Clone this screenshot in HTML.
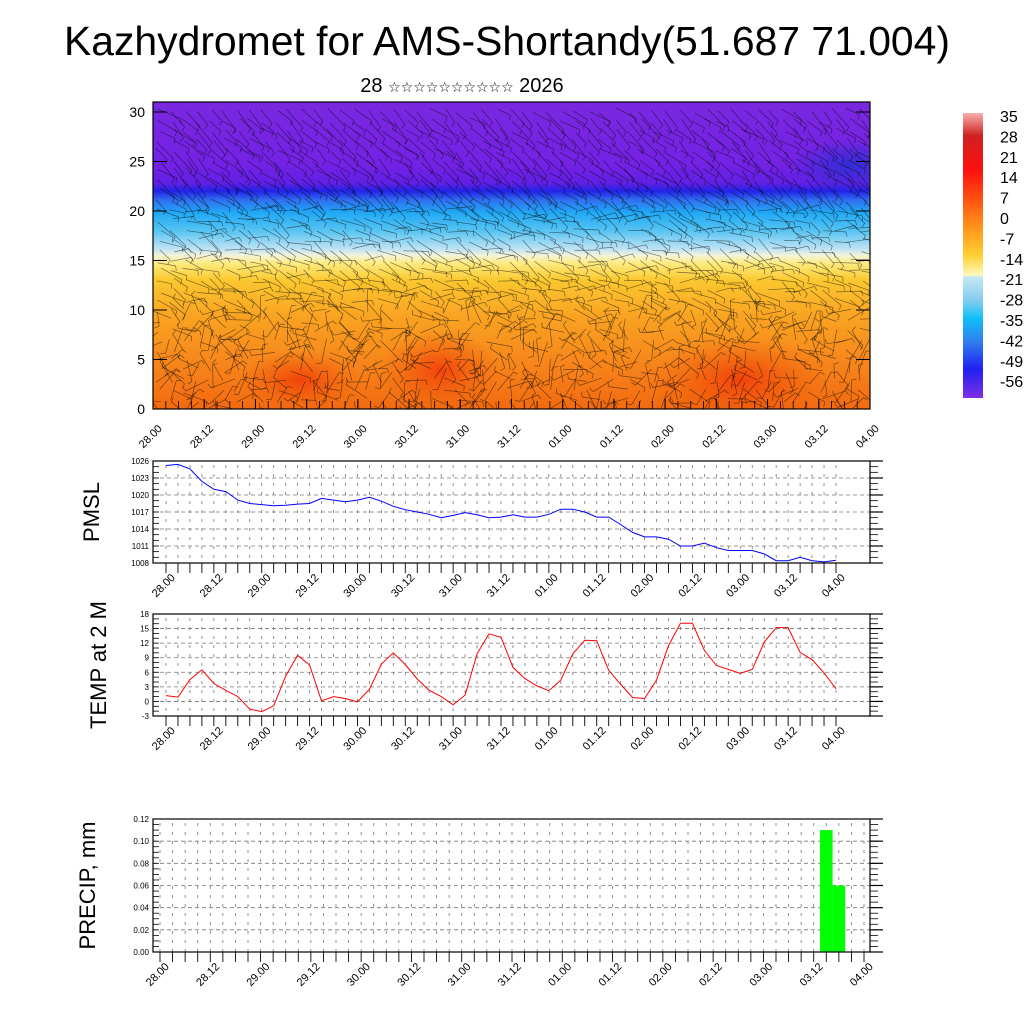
<!DOCTYPE html>
<html><head><meta charset="utf-8">
<style>
html,body{margin:0;padding:0;background:#fff;}
svg{display:block;font-family:"Liberation Sans","DejaVu Sans",sans-serif;}
</style></head>
<body>
<svg id="chart" width="1024" height="1024" viewBox="0 0 1024 1024" xmlns="http://www.w3.org/2000/svg">
<defs>
  <linearGradient id="vgrad" x1="0" y1="1" x2="0" y2="0">
    <stop offset="0" stop-color="#f26a10"/>
    <stop offset="0.12" stop-color="#f6801a"/>
    <stop offset="0.30" stop-color="#f9a322"/>
    <stop offset="0.42" stop-color="#fbc830"/>
    <stop offset="0.475" stop-color="#fdeb80"/>
    <stop offset="0.50" stop-color="#f4f4d8"/>
    <stop offset="0.52" stop-color="#c0e4f4"/>
    <stop offset="0.58" stop-color="#58c4f2"/>
    <stop offset="0.64" stop-color="#20a8f4"/>
    <stop offset="0.68" stop-color="#3070f0"/>
    <stop offset="0.71" stop-color="#2222e6"/>
    <stop offset="0.735" stop-color="#6020e4"/>
    <stop offset="0.80" stop-color="#7422e4"/>
    <stop offset="1" stop-color="#7a28e0"/>
  </linearGradient>
  <radialGradient id="hot" cx="0.5" cy="0.5" r="0.5">
    <stop offset="0" stop-color="#f03808" stop-opacity="0.85"/>
    <stop offset="1" stop-color="#f05808" stop-opacity="0"/>
  </radialGradient>
  <radialGradient id="cold" cx="0.5" cy="0.5" r="0.5">
    <stop offset="0" stop-color="#2030d0" stop-opacity="0.8"/>
    <stop offset="1" stop-color="#2030d0" stop-opacity="0"/>
  </radialGradient>
  <linearGradient id="cbar" x1="0" y1="0" x2="0" y2="1">
    <stop offset="0" stop-color="#f8b0b0"/>
    <stop offset="0.08" stop-color="#d02020"/>
    <stop offset="0.2" stop-color="#ff1010"/>
    <stop offset="0.3" stop-color="#ff5010"/>
    <stop offset="0.42" stop-color="#ffa020"/>
    <stop offset="0.5" stop-color="#ffd030"/>
    <stop offset="0.57" stop-color="#fff8c0"/>
    <stop offset="0.575" stop-color="#c8e8f4"/>
    <stop offset="0.66" stop-color="#80ccee"/>
    <stop offset="0.72" stop-color="#10c0f8"/>
    <stop offset="0.8" stop-color="#3080f0"/>
    <stop offset="0.9" stop-color="#2020f0"/>
    <stop offset="1" stop-color="#8030e8"/>
  </linearGradient>
  <clipPath id="topclip"><rect x="153" y="102" width="717" height="307"/></clipPath>
</defs>

<text x="507" y="55" font-size="41" text-anchor="middle" textLength="886" lengthAdjust="spacingAndGlyphs">Kazhydromet for AMS-Shortandy(51.687 71.004)</text>
<text x="462" y="92" font-size="20" text-anchor="middle">28 <tspan font-size="14">☆☆☆☆☆☆☆☆☆☆</tspan> 2026</text>

<g id="top">
  <rect x="153" y="102" width="717" height="307" fill="url(#vgrad)"/>
  <g clip-path="url(#topclip)">
    <ellipse cx="440" cy="370" rx="60" ry="40" fill="url(#hot)"/>
    <ellipse cx="300" cy="380" rx="60" ry="30" fill="url(#hot)"/>
    <ellipse cx="740" cy="380" rx="90" ry="45" fill="url(#hot)"/>
    <ellipse cx="850" cy="165" rx="60" ry="25" fill="url(#cold)"/>
  </g>
  <g id="barbs" clip-path="url(#topclip)" stroke="#000" stroke-width="0.7" stroke-opacity="0.5" fill="none"></g>
  <rect x="153" y="102" width="717" height="307" fill="none" stroke="#000" stroke-width="1.2"/>
  <g id="topaxes"></g>
</g>

<g id="colorbar">
  <rect x="963" y="113" width="20" height="285" fill="url(#cbar)"/>
</g>

<g id="pmsl"></g>
<g id="temp"></g>
<g id="precip"></g>
</svg>

<script>
// ---------- data ----------
const xLabels = ["28.00","28.12","29.00","29.12","30.00","30.12","31.00","31.12","01.00","01.12","02.00","02.12","03.00","03.12","04.00"];
const heightTicks = [0,5,10,15,20,25,30];
const colorbarLabels = ["35","28","21","14","7","0","-7","-14","-21","-28","-35","-42","-49","-56"];
const pmslValues = [1025.2,1025.4,1024.6,1022.4,1021.0,1020.6,1019.1,1018.5,1018.3,1018.1,1018.2,1018.4,1018.5,1019.4,1019.1,1018.8,1019.1,1019.6,1018.9,1018.0,1017.4,1017.0,1016.6,1016.0,1016.4,1016.9,1016.5,1016.0,1016.1,1016.5,1016.1,1016.1,1016.6,1017.5,1017.5,1017.0,1016.1,1016.1,1014.8,1013.4,1012.6,1012.6,1012.2,1011.0,1011.0,1011.5,1010.7,1010.2,1010.2,1010.2,1009.6,1008.4,1008.4,1009.0,1008.4,1008.2,1008.5];
const pmslTicks = [1008,1011,1014,1017,1020,1023,1026];
const tempValues = [1.2,0.9,4.5,6.5,3.7,2.3,1.0,-1.6,-2.1,-0.9,5.2,9.5,7.5,0.1,1.0,0.6,-0.1,2.5,7.7,10.0,7.6,4.6,2.3,1.0,-0.7,1.3,9.8,13.9,13.2,7.0,4.7,3.2,2.2,4.4,9.8,12.6,12.5,6.4,3.5,0.8,0.6,4.4,11.5,16.1,16.1,10.5,7.4,6.6,5.8,6.6,12.2,15.2,15.2,10.1,8.6,5.9,2.6];
const tempTicks = [-3,0,3,6,9,12,15,18];
const precipIndex = [53,54];
const precipValues = [0.11,0.06];
const precipTicks = ["0.00","0.02","0.04","0.06","0.08","0.10","0.12"];

const NS="http://www.w3.org/2000/svg";
function mk(tag,attrs,parent){const e=document.createElementNS(NS,tag);for(const k in attrs)e.setAttribute(k,attrs[k]);parent.appendChild(e);return e;}

// ---------- top panel axes ----------
(function(){
  const g=document.getElementById('topaxes');
  const x0=153,x1=870,y0=409;
  const ys=v=>409-v*9.9;
  heightTicks.forEach(v=>{
    const t=mk('text',{x:145,y:ys(v)+5,'font-size':14,'text-anchor':'end'},g);
    t.textContent=v;
    
    
    mk('line',{x1:x0,x2:x0+14,y1:ys(v),y2:ys(v),stroke:'#000','stroke-width':1},g);
    mk('line',{x1:x1-14,x2:x1,y1:ys(v),y2:ys(v),stroke:'#000','stroke-width':1},g);
  });
  const step=(x1-x0)/(xLabels.length-1);
  for(let i=0;i<xLabels.length;i++){
    const x=x0+i*step;
    mk('line',{x1:x,x2:x,y1:y0,y2:y0-10,stroke:'#000','stroke-width':1},g);
    const t=mk('text',{x:0,y:0,'font-size':11,'text-anchor':'middle',transform:`translate(${x},${y0+30}) rotate(-45)`},g);
    t.textContent=xLabels[i];
    
    
  }
  for(let i=0;i<=56;i++){const x=x0+i*(x1-x0)/56;mk('line',{x1:x,x2:x,y1:y0,y2:y0-8,stroke:'#000','stroke-width':0.8},g);}
  // decorative wind-barb texture
  const b=document.getElementById('barbs');
  let s=7;const r=()=>{s=(s*16807)%2147483647;return s/2147483647;};
  for(let gy=108;gy<409;gy+=10){
    for(let gx=156;gx<870;gx+=13){
      const a=(gy<200? 0.4 + r()*0.6 : (gy<300? r()*1.2-0.3 : r()*6.28));
      const L=14+r()*12;
      const px=gx+r()*6, py=gy+r()*5;
      const ex=px+Math.cos(a)*L, ey=py+Math.sin(a)*L;
      mk('line',{x1:px.toFixed(1),y1:py.toFixed(1),x2:ex.toFixed(1),y2:ey.toFixed(1)},b);
      const fa=a+1.3;
      mk('line',{x1:ex.toFixed(1),y1:ey.toFixed(1),x2:(ex+Math.cos(fa)*5).toFixed(1),y2:(ey+Math.sin(fa)*5).toFixed(1)},b);
    }
  }
})();

// ---------- colorbar labels ----------
(function(){
  const g=document.getElementById('colorbar');
  colorbarLabels.forEach((l,i)=>{
    const t=mk('text',{x:1000,y:122+i*20.4,'font-size':16},g);
    t.textContent=l;
    
    
  });
})();

// ---------- generic time-series panel ----------
function panel(id,opt){
  const g=document.getElementById(id);
  
  
  const {bx0,bx1,by0,by1,tx0,tx1,ymin,ymax}=opt;
  const xs=i=>tx0+i*(tx1-tx0)/56;
  const ys=v=>by1-(v-ymin)/(ymax-ymin)*(by1-by0);
  for(let i=0;i<=56;i++){
    mk('line',{x1:xs(i),x2:xs(i),y1:by0+4,y2:by1,stroke:'#777','stroke-width':0.8,'stroke-dasharray':'3,6'},g);
  }
  opt.ticks.forEach(v=>{
    const y=ys(+v);
    mk('line',{x1:bx0,x2:bx1,y1:y,y2:y,stroke:'#777','stroke-width':0.8,'stroke-dasharray':'4,3'},g);
    const t=mk('text',{x:bx0-4,y:y+3,'font-size':8,'text-anchor':'end'},g);
    t.textContent=v;
    
    
    mk('line',{x1:bx1,x2:bx1+13,y1:y,y2:y,stroke:'#000','stroke-width':1.2},g);
  });
  for(let v=ymin;v<=ymax+1e-9;v+=opt.minor){
    const y=ys(v);
    mk('line',{x1:bx0,x2:bx0+6,y1:y,y2:y,stroke:'#000','stroke-width':0.8},g);
    mk('line',{x1:bx1,x2:bx1+8,y1:y,y2:y,stroke:'#000','stroke-width':0.8},g);
  }
  opt.draw(g,xs,ys);
  mk('rect',{x:bx0,y:by0,width:bx1-bx0,height:by1-by0,fill:'none',stroke:'#000','stroke-width':1.2},g);
  for(let i=0;i<=56;i++){
    mk('line',{x1:xs(i),x2:xs(i),y1:by1,y2:by1+10,stroke:'#000','stroke-width':0.9},g);
  }
  xLabels.forEach((l,k)=>{
    const x=xs(k*4);
    const t=mk('text',{x:0,y:0,'font-size':11,'text-anchor':'middle',transform:`translate(${x},${by1+25}) rotate(-45)`},g);
    t.textContent=l;
    
    
  });
  const yt=mk('text',{x:0,y:0,'font-size':22,'text-anchor':'middle',transform:`translate(${opt.labelX},${(by0+by1)/2}) rotate(-90)`},g);
  yt.textContent=opt.title;
  
  
}

panel('pmsl',{name:'pmsl-panel',bx0:153,bx1:870,by0:461,by1:563,tx0:166,tx1:836,ymin:1008,ymax:1026,minor:1,ticks:pmslTicks,labelX:99,title:'PMSL',
  draw:(g,xs,ys)=>{
    const p=mk('polyline',{points:pmslValues.map((v,i)=>xs(i).toFixed(1)+','+ys(v).toFixed(1)).join(' '),fill:'none',stroke:'#0000ff','stroke-width':1},g);
    
    
  }});
panel('temp',{name:'temp-panel',bx0:153,bx1:870,by0:614,by1:716,tx0:166,tx1:836,ymin:-3,ymax:18,minor:1,ticks:tempTicks,labelX:106,title:'TEMP at 2 M',
  draw:(g,xs,ys)=>{
    const p=mk('polyline',{points:tempValues.map((v,i)=>xs(i).toFixed(1)+','+ys(v).toFixed(1)).join(' '),fill:'none',stroke:'#ff0000','stroke-width':1},g);
    
    
  }});
panel('precip',{name:'precip-panel',bx0:153,bx1:870,by0:819,by1:952,tx0:160,tx1:864,ymin:0,ymax:0.12,minor:0.005,ticks:precipTicks,labelX:95,title:'PRECIP, mm',
  draw:(g,xs,ys)=>{
    const w=(864-160)/56;
    precipValues.forEach((v,k)=>{
      const xc=xs(precipIndex[k]);
      const r=mk('rect',{x:(xc-w/2).toFixed(1),y:ys(v).toFixed(1),width:w.toFixed(1),height:(ys(0)-ys(v)).toFixed(1),fill:'#00ff00'},g);
      
      
    });
  }});
</script>
</body></html>
